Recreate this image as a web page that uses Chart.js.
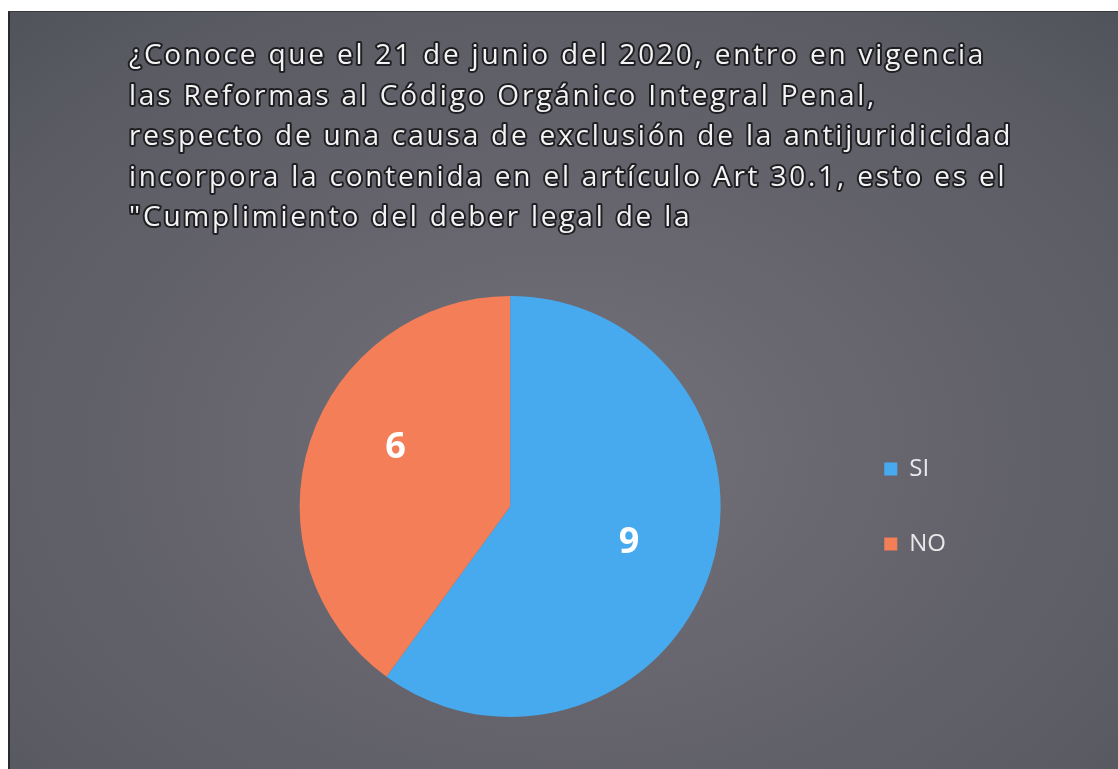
<!DOCTYPE html>
<html>
<head>
<meta charset="utf-8">
<script src="https://cdn.jsdelivr.net/npm/chart.js@4/dist/chart.umd.min.js"></script>
<style>
  html, body { margin: 0; padding: 0; background: #fff; }
  #panel {
    position: absolute; left: 8px; top: 11px; width: 1110px; height: 758px;
    background: radial-gradient(ellipse 75% 80% at 50% 58%, #73717a 0%, #65646d 45%, #5a5b63 80%, #50535b 100%);
    border-left: 2px solid #2a2a2e; border-top: 1px solid #3a3a3e; box-sizing: border-box;
  }
  canvas { display: block; }
</style>
</head>
<body>
<div id="panel"><canvas id="pieChart" width="1108" height="757"></canvas></div>
<script>
const titleLines = [
  '¿Conoce que el 21 de junio del 2020, entro en vigencia',
  'las Reformas al Código Orgánico Integral Penal,',
  'respecto de una causa de exclusión de la antijuridicidad',
  'incorpora la contenida en el artículo Art 30.1, esto es el',
  '"Cumplimiento del deber legal de la'
];
const categories = ['SI', 'NO'];
const answers = [9, 6];
const sliceColors = ['#48aaee', '#f47e57'];

// title with dark outline, drawn on top of the canvas
const outlinedTitle = {
  id: 'outlinedTitle',
  afterDraw(chart) {
    const ctx = chart.ctx;
    ctx.save();
    ctx.font = '28px "Open Sans"';
    ctx.letterSpacing = '2.8px';
    ctx.textBaseline = 'alphabetic';
    ctx.lineJoin = 'round';
    titleLines.forEach((line, i) => {
      const y = 52 + i * 40.5;
      ctx.lineWidth = 4;
      ctx.strokeStyle = 'rgba(20,20,24,0.85)';
      ctx.strokeText(line, 119, y);
      ctx.fillStyle = '#f4f4f4';
      ctx.fillText(line, 119, y);
    });
    ctx.restore();
  }
};

// value labels inside each slice
const sliceValues = {
  id: 'sliceValues',
  afterDatasetsDraw(chart) {
    const ctx = chart.ctx;
    const meta = chart.getDatasetMeta(0);
    ctx.save();
    ctx.font = 'bold 36px "Open Sans"';
    ctx.fillStyle = '#ffffff';
    ctx.textAlign = 'center';
    ctx.textBaseline = 'middle';
    meta.data.forEach((arc, i) => {
      const mid = (arc.startAngle + arc.endAngle) / 2 + (i === 1 ? 0.12 : 0.03);
      const r = arc.outerRadius * 0.6;
      ctx.fillText(String(answers[i]), arc.x + Math.cos(mid) * r, arc.y + Math.sin(mid) * r - 6);
    });
    ctx.restore();
  }
};

new Chart(document.getElementById('pieChart').getContext('2d'), {
  type: 'pie',
  data: {
    labels: categories,
    datasets: [{ data: answers, backgroundColor: sliceColors, borderWidth: 0 }]
  },
  options: {
    responsive: false,
    animation: false,
    layout: { padding: { left: 177, top: 284, bottom: 52, right: 162 } },
    plugins: {
      title: { display: false },
      tooltip: { enabled: false },
      legend: {
        position: 'right',
        labels: {
          color: '#e8e8ea',
          font: { size: 24, family: '"Open Sans"' },
          boxWidth: 13,
          boxHeight: 13,
          padding: 51
        }
      }
    }
  },
  plugins: [outlinedTitle, sliceValues]
});
</script>
</body>
</html>
